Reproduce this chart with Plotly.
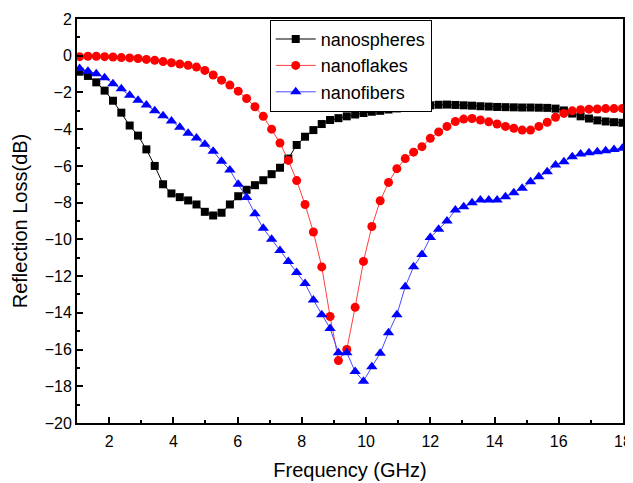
import plotly.graph_objects as go

freq = [1.08, 1.34, 1.60, 1.86, 2.12, 2.38, 2.64, 2.90, 3.16, 3.42,
        3.68, 3.94, 4.20, 4.46, 4.72, 4.98, 5.24, 5.50, 5.76, 6.02,
        6.28, 6.54, 6.80, 7.06, 7.32, 7.58, 7.84, 8.10, 8.36, 8.62,
        8.88, 9.14, 9.40, 9.66, 9.92, 10.18, 10.44, 10.70, 10.96, 11.22,
        11.48, 11.74, 12.00, 12.26, 12.52, 12.78, 13.04, 13.30, 13.56, 13.82,
        14.08, 14.34, 14.60, 14.86, 15.12, 15.38, 15.64, 15.90, 16.16, 16.42,
        16.68, 16.94, 17.20, 17.46, 17.72, 17.98]

nanospheres = [-0.87, -1.10, -1.45, -1.90, -2.45, -3.10, -3.80, -4.35, -5.10, -6.00,
               -7.00, -7.50, -7.70, -7.88, -8.10, -8.50, -8.70, -8.55, -8.10, -7.65,
               -7.30, -7.05, -6.78, -6.45, -6.10, -5.60, -4.86, -4.41, -4.05, -3.72,
               -3.50, -3.40, -3.30, -3.20, -3.12, -3.05, -3.00, -2.93, -2.87, -2.82,
               -2.77, -2.73, -2.70, -2.67, -2.66, -2.68, -2.70, -2.72, -2.75, -2.77,
               -2.79, -2.80, -2.81, -2.82, -2.82, -2.83, -2.84, -2.88, -2.98, -3.15,
               -3.30, -3.42, -3.52, -3.58, -3.62, -3.65]

nanoflakes = [-0.05, -0.03, -0.03, -0.05, -0.07, -0.10, -0.12, -0.15, -0.20, -0.25,
              -0.32, -0.38, -0.45, -0.52, -0.62, -0.80, -1.05, -1.33, -1.60, -1.93,
              -2.33, -2.78, -3.30, -4.00, -4.75, -5.70, -6.80, -8.10, -9.60, -11.50,
              -14.20, -16.60, -16.00, -13.70, -11.20, -9.30, -7.90, -6.90, -6.15, -5.60,
              -5.25, -4.95, -4.50, -4.15, -3.85, -3.58, -3.45, -3.42, -3.50, -3.60,
              -3.72, -3.85, -3.95, -4.05, -4.05, -3.85, -3.62, -3.35, -3.14, -3.00,
              -2.94, -2.91, -2.90, -2.88, -2.88, -2.87]

nanofibers = [-0.70, -0.85, -0.98, -1.20, -1.52, -1.80, -2.15, -2.43, -2.68, -3.00,
              -3.27, -3.55, -3.90, -4.22, -4.48, -4.82, -5.20, -5.75, -6.22, -7.00,
              -7.72, -8.60, -9.40, -10.00, -10.60, -11.20, -11.80, -12.40, -13.30, -14.10,
              -14.85, -16.17, -16.17, -17.20, -17.72, -16.94, -16.20, -15.08, -14.10, -12.58,
              -11.49, -10.82, -9.90, -9.45, -9.00, -8.40, -8.22, -8.00, -7.86, -7.86,
              -7.86, -7.68, -7.46, -7.22, -6.86, -6.59, -6.32, -5.95, -5.77, -5.50,
              -5.35, -5.28, -5.23, -5.17, -5.10, -5.04]

x_ticks = [2, 4, 6, 8, 10, 12, 14, 16, 18]
y_ticks = [2, 0, -2, -4, -6, -8, -10, -12, -14, -16, -18, -20]

FONT = "Liberation Sans, Arial, sans-serif"

fig = go.Figure()
fig.add_trace(go.Scatter(
    x=freq, y=nanospheres, name="nanospheres", mode="lines+markers",
    line=dict(color="#000000", width=1),
    marker=dict(symbol="square", size=8, color="#000000")))
fig.add_trace(go.Scatter(
    x=freq, y=nanoflakes, name="nanoflakes", mode="lines+markers",
    line=dict(color="#ff4040", width=1),
    marker=dict(symbol="circle", size=9, color="#ff0000")))
fig.add_trace(go.Scatter(
    x=freq, y=nanofibers, name="nanofibers", mode="lines+markers",
    line=dict(color="#4a4aff", width=1),
    marker=dict(symbol="triangle-up", size=10, color="#0000ff")))

fig.update_layout(
    width=633, height=483,
    margin=dict(l=69, r=18, t=11, b=68),
    paper_bgcolor="white", plot_bgcolor="white",
    font=dict(family=FONT, color="#000000"),
    legend=dict(x=0.353, y=0.998, xanchor="left", yanchor="top",
                bordercolor="#000000", borderwidth=1, bgcolor="white",
                font=dict(size=18, family=FONT), tracegroupgap=0,
                itemwidth=40),
    xaxis=dict(range=[1, 18], tickvals=x_ticks, ticks="inside", ticklen=6,
               tickwidth=1.5, tickcolor="#000000", automargin=False,
               ticklabelstandoff=3,
               minor=dict(dtick=1, ticks="inside", ticklen=3, tickwidth=1.5,
                          tickcolor="#000000", showgrid=False),
               showline=True, linecolor="#000000", linewidth=2, mirror=True,
               showgrid=False, zeroline=False,
               tickfont=dict(size=16, family=FONT),
               title=dict(text="Frequency (GHz)", font=dict(size=20, family=FONT),
                          standoff=14)),
    yaxis=dict(range=[-20, 2], tickvals=y_ticks, ticks="inside", ticklen=6,
               tickwidth=1.5, tickcolor="#000000", automargin=False,
               minor=dict(dtick=1, ticks="inside", ticklen=3, tickwidth=1.5,
                          tickcolor="#000000", showgrid=False),
               showline=True, linecolor="#000000", linewidth=2, mirror=True,
               showgrid=False, zeroline=False,
               tickfont=dict(size=16, family=FONT),
               title=dict(text="Reflection Loss(dB)", font=dict(size=20, family=FONT),
                          standoff=12)),
)

fig.write_html("out.html")
